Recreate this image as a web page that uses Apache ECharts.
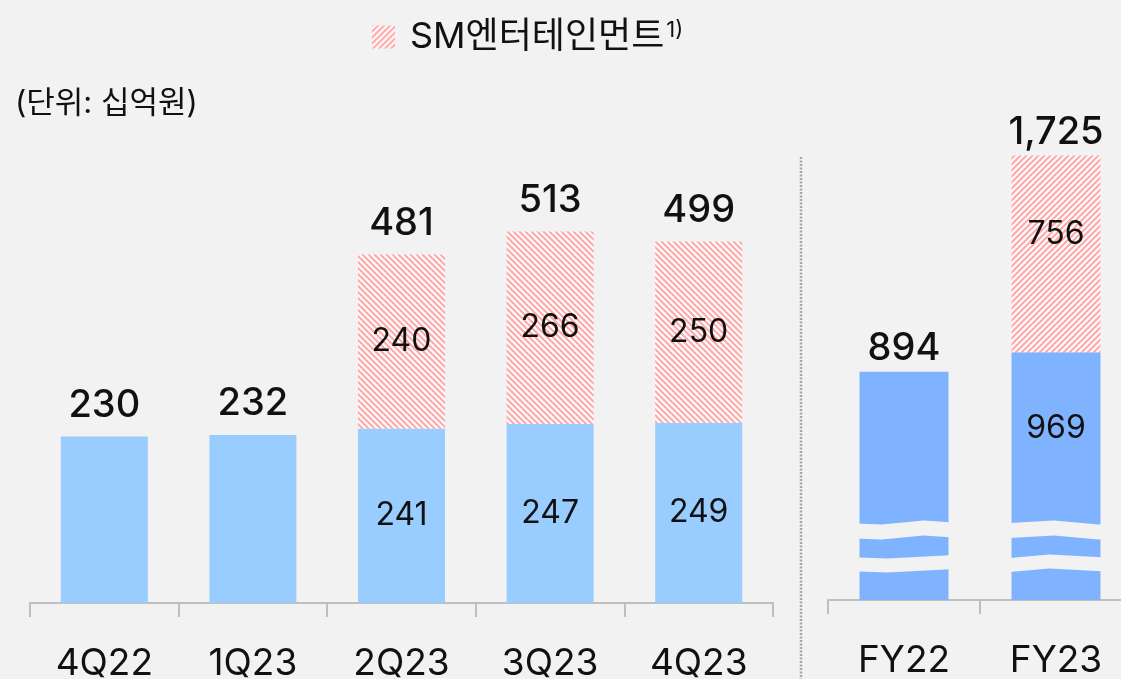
<!DOCTYPE html>
<html>
<head>
<meta charset="utf-8">
<script src="https://cdn.jsdelivr.net/npm/echarts@6/dist/echarts.min.js"></script>
<style>
html, body { margin: 0; padding: 0; background: #f2f2f2; }
#chart { width: 1121px; height: 679px; }
</style>
</head>
<body>
<div id="chart"></div>
<script>
// 분기 데이터
var quarters = ['4Q22', '1Q23', '2Q23', '3Q23', '4Q23'];
var qBase = [230, 232, 241, 247, 249];
var qSM = [null, null, 240, 266, 250];
var qTotal = [230, 232, 481, 513, 499];
// 연간 데이터
var years = ['FY22', 'FY23'];
var yBase = [894, 969];
var ySM = [null, 756];
var yTotal = [894, 1725];
var smName = 'SM엔터테인먼트';

var font = 'Inter, "Noto Sans CJK KR", sans-serif';

// 빗금 패턴
function hatch(dir) {
  var c = document.createElement('canvas');
  c.width = 6; c.height = 6;
  var ctx = c.getContext('2d');
  ctx.fillStyle = '#ffffff';
  ctx.fillRect(0, 0, 6, 6);
  ctx.strokeStyle = '#ffaaaa';
  ctx.lineWidth = 2.2;
  ctx.beginPath();
  if (dir === 'back') {
    ctx.moveTo(-3, -3); ctx.lineTo(9, 9);
    ctx.moveTo(-3, 3); ctx.lineTo(3, 9);
    ctx.moveTo(3, -3); ctx.lineTo(9, 3);
  } else {
    ctx.moveTo(-3, 9); ctx.lineTo(9, -3);
    ctx.moveTo(-3, 3); ctx.lineTo(3, -3);
    ctx.moveTo(3, 9); ctx.lineTo(9, 3);
  }
  ctx.stroke();
  return { image: c, repeat: 'repeat' };
}

var chart = echarts.init(document.getElementById('chart'));

var xAxisStyle = {
  type: 'category',
  axisLine: { show: true, lineStyle: { color: '#bfbfbf', width: 2 } },
  axisTick: { show: true, alignWithLabel: false, interval: 0, length: 14, lineStyle: { color: '#bfbfbf', width: 2 } },
  axisLabel: { fontSize: 37, color: '#111', margin: 42, fontFamily: font }
};

var inLabel = { show: true, position: 'inside', fontSize: 32, color: '#111', fontFamily: font };
var topLabel = { show: true, position: 'top', distance: 12, fontSize: 38, fontWeight: 500, color: '#111', fontFamily: font };

var option = {
  backgroundColor: '#f2f2f2',
  textStyle: { fontFamily: font },
  animation: false,
  title: {
    text: '(단위: 십억원)',
    left: 10, top: 83,
    textStyle: { fontSize: 31, fontWeight: 'normal', color: '#111', fontFamily: font }
  },
  legend: {
    left: 367, top: 14,
    icon: 'rect', itemWidth: 23, itemHeight: 23,
    data: [{ name: smName, itemStyle: { color: hatch('fwd') } }],
    formatter: function (n) { return '{n|' + n + '}{sup|1)}'; },
    textStyle: {
      fontSize: 36, color: '#111', fontFamily: font,
      rich: {
        n: { fontSize: 36, padding: [0, 0, 0, 10], fontFamily: font, color: '#111' },
        sup: { fontSize: 22, padding: [0, 0, 14, 2], fontFamily: font, color: '#111' }
      }
    }
  },
  graphic: [{
    type: 'line',
    shape: { x1: 801, y1: 157, x2: 801, y2: 679 },
    style: { stroke: '#a6a6a6', lineWidth: 2.5, lineDash: [2, 1.5] }
  }],
  grid: [
    { left: 30, right: 348, top: 96, bottom: 76, outerBoundsMode: 'none' },
    { left: 828, right: -11, top: 110, bottom: 79, outerBoundsMode: 'none' }
  ],
  xAxis: [
    Object.assign({ gridIndex: 0, data: quarters }, xAxisStyle),
    Object.assign({ gridIndex: 1, data: years }, xAxisStyle)
  ],
  yAxis: [
    { gridIndex: 0, type: 'value', min: 0, max: 700, show: false },
    {
      gridIndex: 1, type: 'value', min: 0, max: 1900,
      axisLine: { show: false }, axisTick: { show: false },
      axisLabel: { show: false }, splitLine: { show: false },
      breaks: [
        { start: 115, end: 180, gap: 54 },
        { start: 253, end: 317, gap: 58 }
      ],
      breakArea: {
        show: true,
        expandOnClick: false,
        zigzagAmplitude: 2,
        zigzagMinSpan: 40,
        zigzagMaxSpan: 80,
        itemStyle: { color: '#f2f2f2', borderWidth: 0, opacity: 1 }
      }
    }
  ],
  series: [
    {
      name: 'base', type: 'bar', stack: 'q', xAxisIndex: 0, yAxisIndex: 0,
      data: qBase, barWidth: 87, barGap: '-100%',
      itemStyle: { color: '#99CCFF' },
      label: Object.assign({}, inLabel, {
        formatter: function (p) { return qSM[p.dataIndex] == null ? '' : p.value; }
      })
    },
    {
      name: smName, type: 'bar', stack: 'q', xAxisIndex: 0, yAxisIndex: 0,
      data: qSM, barWidth: 87, barGap: '-100%',
      itemStyle: { color: hatch('back') },
      label: inLabel
    },
    {
      name: 'total', type: 'bar', xAxisIndex: 0, yAxisIndex: 0, z: 1,
      data: qTotal, barWidth: 87, barGap: '-100%', silent: true,
      itemStyle: { color: 'rgba(0,0,0,0)' },
      label: topLabel
    },
    {
      name: 'baseY', type: 'bar', stack: 'y', xAxisIndex: 1, yAxisIndex: 1,
      data: yBase, barWidth: 89, barGap: '-100%',
      itemStyle: { color: '#80B3FF' },
      label: Object.assign({}, inLabel, {
        offset: [0, -48],
        formatter: function (p) { return ySM[p.dataIndex] == null ? '' : p.value; }
      })
    },
    {
      name: smName, type: 'bar', stack: 'y', xAxisIndex: 1, yAxisIndex: 1,
      data: ySM, barWidth: 89, barGap: '-100%',
      itemStyle: { color: hatch('fwd') },
      label: Object.assign({}, inLabel, { offset: [0, -20] })
    },
    {
      name: 'totalY', type: 'bar', xAxisIndex: 1, yAxisIndex: 1, z: 1,
      data: yTotal, barWidth: 89, barGap: '-100%', silent: true,
      itemStyle: { color: 'rgba(0,0,0,0)' },
      label: Object.assign({}, topLabel, {
        distance: 4,
        formatter: function (p) { return p.value.toLocaleString('en-US'); }
      })
    }
  ]
};

chart.setOption(option);
</script>
</body>
</html>
